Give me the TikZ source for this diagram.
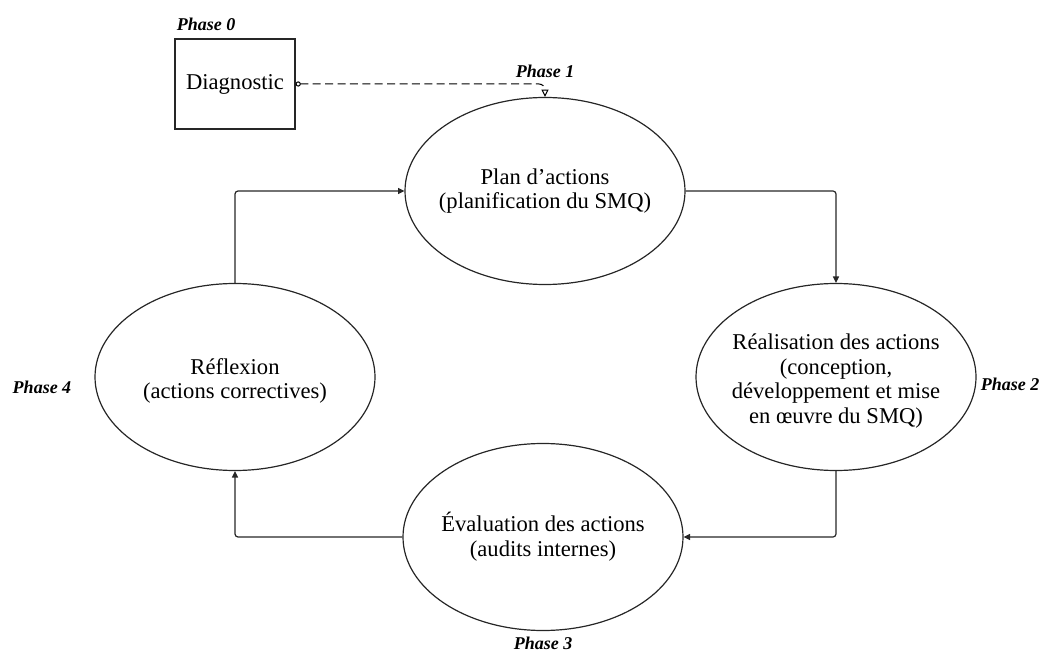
\documentclass[tikz,border=0pt]{standalone}
\usepackage{fontspec}
\setmainfont{Liberation Serif}
\usetikzlibrary{arrows.meta,shapes.geometric}
\tikzset{
  >={Triangle[length=3.2pt,width=3pt]},
  phasebox/.style={ellipse,draw=black!85,line width=0.6pt,minimum width=140pt,minimum height=93.5pt,inner sep=0pt},
  txt/.style={font=\fontsize{11.3}{12.4}\selectfont,align=center,inner sep=0pt},
  phase/.style={font=\fontsize{9}{10}\selectfont\bfseries\itshape,inner sep=1pt},
  arr/.style={->,draw=black!85,line width=0.6pt,rounded corners=1.5pt},
  darr/.style={{Circle[open,length=2.6pt]}-{Triangle[open,length=3.6pt,width=3.4pt]},draw=black,line width=0.5pt,dash pattern=on 4pt off 2.2pt,rounded corners=3pt},
}
\begin{document}
\begin{tikzpicture}[x=0.5pt,y=-0.5pt]
\useasboundingbox (0,0) rectangle (1059,657);
% phase 0
\node[draw=black!85,line width=0.6pt,minimum width=60pt,minimum height=45pt,inner sep=0pt] (diag) at (235,84) {};
\node[txt] (diagtxt) at (diag) {Diagnostic};
\node[phase] (ph0) at (206,24) {Phase 0};
% cycle
\node[phasebox] (plan) at (545,191) {};
\node[txt] (plantxt) at (plan) {Plan d'actions\\(planification du SMQ)};
\node[phasebox] (real) at (836,377) {};
\node[txt] (realtxt) at ([yshift=-2]real.center) {Réalisation des actions\\(conception,\\développement et mise\\en œuvre du SMQ)};
\node[phasebox] (eval) at (543,537) {};
\node[txt] (evaltxt) at (eval) {Évaluation des actions\\(audits internes)};
\node[phasebox] (refl) at (235,377) {};
\node[txt] (refltxt) at ([yshift=-2]refl.center) {Réflexion\\(actions correctives)};
\node[phase] (ph1) at (545,71) {Phase 1};
\node[phase] (ph2) at (1010,384) {Phase 2};
\node[phase] (ph3) at (543,643) {Phase 3};
\node[phase] (ph4) at (42,387) {Phase 4};
\draw[darr] (diag.east) -| (plan.north);
\draw[arr] (plan.east) -| (real.north);
\draw[arr] (real.south) |- (eval.east);
\draw[arr] (eval.west) -| (refl.south);
\draw[arr] (refl.north) |- (plan.west);
\end{tikzpicture}
\end{document}
